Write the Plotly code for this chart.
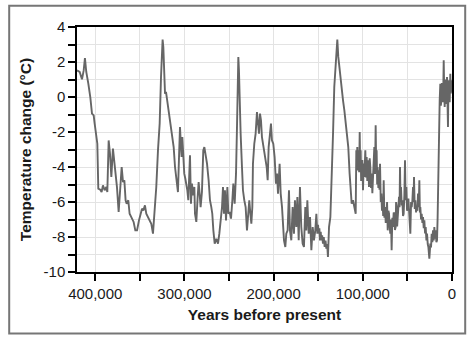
import plotly.graph_objects as go

# Years before present (thousands) and temperature change (°C)
# Segment A: 420 kyr -> 152 kyr
years_a = [420.5, 417.5, 414.9, 413.0, 411.6, 410.1, 407.8, 405.6, 403.7, 401.8,
           400.7, 398.8, 397.7, 396.6, 394.4, 392.9, 391.4, 389.5, 387.6, 386.5,
           385.0, 383.5, 382.0, 380.2, 378.3, 376.8, 375.7, 373.8, 371.9, 370.4,
           368.9, 367.4, 366.0, 364.8, 363.0, 361.5, 359.6, 358.5, 357.0, 355.1,
           353.2, 351.0, 349.5, 347.6, 346.1, 344.3, 342.8, 340.9, 339.0, 337.2,
           335.3, 334.2, 331.6, 329.7, 327.8, 326.3, 325.2, 324.5, 323.7, 323.0,
           321.8, 320.7, 319.2, 317.4, 315.9, 313.6, 312.1, 310.6, 309.1, 307.3,
           306.1, 305.0, 303.9, 303.2, 302.4, 301.3, 300.2, 299.0, 297.9, 296.8,
           295.7, 294.9, 293.8, 292.7, 291.6, 290.4, 288.9, 288.2, 286.7, 285.2,
           284.1, 283.0, 281.9, 280.4, 278.9, 277.7, 276.2, 274.7, 272.9, 271.4,
           269.9, 268.8, 267.6, 266.1, 264.3, 262.4, 260.9, 259.4, 257.9, 256.8,
           255.7, 254.6, 253.4, 251.9, 250.8, 249.3, 247.8, 246.3, 245.2, 243.7,
           242.2, 241.1, 240.4, 239.6, 238.9, 238.1, 237.0, 235.5, 234.4, 232.9,
           231.4, 229.9, 228.8, 227.3, 226.1, 225.0, 223.9, 223.2, 221.7, 220.2,
           218.7, 217.6, 216.4, 215.3, 214.2, 213.1, 211.9, 210.8, 209.3, 207.8,
           206.7, 205.6, 204.1, 203.0, 201.9, 200.4, 198.9, 197.4, 196.2, 195.1,
           193.3, 192.1, 190.6, 189.5, 188.4, 186.9, 185.8, 184.3, 182.8, 181.7,
           180.2, 178.7, 177.2, 176.1, 174.6, 173.4, 171.9, 170.5, 169.0, 167.5,
           166.0, 164.5, 163.4, 162.2, 160.7, 159.2, 157.7, 156.2, 154.8, 153.3,
           152.1]
temps_a = [1.52, 1.43, 1.01, 1.52, 2.23, 1.43, 0.76, 0.0, -0.95, -1.05,
           -1.52, -2.10, -2.67, -5.24, -5.30, -5.43, -5.05, -5.33, -5.14, -5.43,
           -2.48, -3.24, -4.57, -2.95, -3.81, -4.76, -5.14, -6.57, -5.14, -4.0,
           -4.86, -4.76, -5.90, -6.10, -5.90, -6.67, -6.86, -6.95, -7.14, -7.62,
           -7.62, -7.05, -6.67, -6.38, -6.48, -6.19, -6.67, -6.86, -7.05, -7.24,
           -7.81, -7.05, -5.14, -3.05, -1.52, 1.14, 2.86, 3.28, 2.86, 1.71,
           0.19, 0.29, -0.29, -1.05, -1.33, -2.29, -2.86, -4.0, -4.76, -5.43,
           -3.43, -1.71, -2.86, -3.43, -2.29, -3.62, -4.38, -4.67, -4.95, -5.33,
           -5.90, -4.95, -3.33, -6.10, -4.95, -5.62, -5.14, -6.67, -7.14, -5.71,
           -4.86, -5.52, -6.29, -5.43, -3.05, -2.86, -3.24, -3.81, -4.76, -5.90,
           -6.29, -6.67, -7.62, -8.38, -8.10, -8.38, -7.81, -7.05, -6.29, -5.14,
           -6.67, -5.33, -7.05, -5.14, -6.67, -6.57, -6.95, -5.90, -4.95, -6.10,
           -4.38, -1.71, 0.19, 2.29, 1.52, -0.57, -2.10, -4.0, -5.33, -5.90,
           -6.29, -7.62, -6.86, -5.90, -6.67, -7.24, -6.29, -3.81, -2.67, -2.10,
           -0.86, -1.33, -2.10, -0.95, -1.33, -2.29, -2.67, -2.86, -3.43, -4.0,
           -4.76, -2.86, -2.10, -1.52, -2.48, -2.67, -3.43, -4.95, -4.38, -5.52,
           -3.81, -5.52, -6.29, -7.43, -8.19, -8.57, -7.81, -7.62, -5.33, -7.62,
           -8.19, -6.29, -7.81, -5.90, -7.43, -5.71, -8.19, -5.14, -7.43, -8.38,
           -8.57, -6.29, -7.62, -5.90, -7.81, -6.86, -8.76, -7.43, -8.19, -7.62,
           -6.67]

# Segment B: 151 kyr -> 108 kyr
years_b = [151.0, 150.2, 149.5, 148.7, 148.0, 147.2, 146.5, 145.6, 144.7, 143.8,
           142.8, 141.8, 140.9, 140.0, 139.1, 137.9, 136.4, 134.9, 133.4, 132.0,
           130.5, 129.3, 128.6, 127.5, 126.3, 125.2, 123.7, 122.2, 120.7, 119.2,
           117.7, 116.3, 114.8, 113.6, 112.5, 111.0, 109.5, 108.0]
temps_b = [-7.81, -7.3, -7.81, -7.5, -8.19, -7.7, -8.19, -7.9, -8.38, -8.0,
           -8.57, -8.2, -8.67, -8.4, -9.14, -7.43, -6.86, -4.76, -2.10, 0.57,
           2.10, 2.48, 3.28, 2.29, 1.71, 0.95, 0.38, -0.19, -0.76, -1.52,
           -2.10, -2.86, -4.38, -5.52, -6.10, -5.90, -6.29, -6.67]

# Segment C: 107 kyr -> 17 kyr
years_c = [107.3, 106.8, 106.2, 105.5, 104.7, 104.1, 103.5, 103.0, 102.4, 101.9,
           101.3, 100.5, 99.8, 99.0, 98.3, 97.7, 97.2, 96.4, 95.7, 95.0,
           94.2, 93.6, 93.1, 92.3, 91.6, 90.8, 90.1, 89.3, 88.6, 87.8,
           87.1, 86.3, 85.6, 85.0, 84.5, 83.9, 83.4, 82.6, 81.9, 81.3,
           80.7, 79.9, 79.2, 78.5, 77.8, 77.2, 76.6, 75.8, 75.1, 74.3,
           73.6, 72.8, 72.1, 71.3, 70.6, 69.9, 69.2, 68.4, 67.7, 66.9,
           66.2, 65.4, 64.7, 64.0, 63.2, 62.7, 62.1, 61.5, 60.9, 60.2,
           59.4, 58.8, 58.3, 57.7, 57.2, 56.4, 55.7, 54.9, 54.2, 53.4,
           52.7, 52.0, 51.2, 50.4, 49.7, 48.9, 48.2, 47.4, 46.7, 45.9,
           45.2, 44.4, 43.7, 43.1, 42.6, 41.8, 41.1, 40.3, 39.6, 38.8,
           38.1, 37.3, 36.6, 36.0, 35.5, 34.7, 34.0, 33.2, 32.5, 31.7,
           31.0, 30.2, 29.5, 28.7, 28.0, 27.2, 26.5, 25.4, 24.3, 23.5,
           22.8, 22.0, 21.3, 20.5, 19.8, 19.0, 18.3, 17.5, 16.8]
temps_c = [-3.05, -4.0, -2.86, -4.2, -3.05, -4.3, -2.0, -3.9, -3.05, -4.8,
           -4.38, -3.6, -5.33, -3.8, -4.57, -3.6, -3.05, -4.6, -3.43, -4.8,
           -3.62, -4.2, -5.14, -3.5, -4.0, -5.2, -4.38, -5.5, -4.76, -4.2,
           -2.86, -4.4, -1.62, -3.9, -3.05, -5.0, -4.0, -5.2, -4.19, -5.3,
           -3.81, -6.0, -5.52, -6.5, -5.90, -6.8, -4.76, -6.9, -6.29, -7.2,
           -6.86, -6.0, -7.62, -6.5, -6.67, -7.4, -7.81, -7.0, -8.76, -6.9,
           -7.43, -6.6, -6.67, -7.6, -7.43, -6.0, -6.29, -7.4, -7.05, -6.3,
           -5.71, -6.3, -4.0, -6.0, -5.14, -6.2, -5.90, -6.8, -6.67, -5.6,
           -3.62, -5.9, -5.14, -6.5, -6.29, -5.8, -6.67, -7.0, -7.81, -6.0,
           -6.29, -5.9, -5.14, -6.0, -4.57, -6.4, -5.90, -6.6, -6.29, -6.5,
           -5.52, -6.3, -4.76, -6.6, -6.29, -7.0, -6.67, -7.2, -6.86, -7.5,
           -7.05, -7.8, -7.43, -8.2, -7.81, -8.4, -8.57, -9.24, -8.38, -8.6,
           -7.81, -8.3, -7.62, -8.2, -7.43, -8.1, -7.62, -8.3, -8.19]

# Segment D: 16 kyr -> present
years_d = [16.1, 15.3, 14.6, 13.8, 13.1, 12.5, 12.0, 11.4, 10.8, 10.0,
           9.3, 8.7, 8.2, 7.6, 7.1, 6.3, 5.6, 5.0, 4.5, 4.0,
           3.4, 2.6, 1.9, 1.3, 0.7, 0.0]
temps_d = [-6.86, -4.0, -2.10, -0.19, 0.76, -0.5, -0.19, 0.8, 0.57, -0.3,
           2.10, 0.2, -0.57, 1.0, 0.57, -0.4, 1.14, 0.0, -1.71, 0.5,
           0.95, -0.3, 1.33, 0.2, 0.95, 0.3]

for ys, ts in [(years_a, temps_a), (years_b, temps_b), (years_c, temps_c), (years_d, temps_d)]:
    assert len(ys) == len(ts), (len(ys), len(ts))

x_tick_vals = [0, 50000, 100000, 150000, 200000, 250000, 300000, 350000, 400000]
x_tick_text = ["0", "", "100,000", "", "200,000", "", "300,000", "", "400,000"]
y_tick_vals = list(range(-10, 5))
y_tick_text = [str(v) if v % 2 == 0 else "" for v in y_tick_vals]

years = [y * 1000 for y in years_a + years_b + years_c + years_d]
temps = temps_a + temps_b + temps_c + temps_d

FONT = "Liberation Sans, Arial, sans-serif"

fig = go.Figure()
fig.add_trace(go.Scatter(
    x=years, y=temps, mode="lines",
    line=dict(color="#666666", width=1.9),
    hoverinfo="skip", showlegend=False,
))

W, H = 474, 346
L, R, T, B = 77, 22, 27, 74
pw, ph = W - L - R, H - T - B

def px_x(p):
    return (p - L) / pw

def px_y(p):
    return (H - B - p) / ph

fig.update_layout(
    width=W, height=H,
    margin=dict(l=L, r=R, t=T, b=B),
    paper_bgcolor="white", plot_bgcolor="white",
    font=dict(family=FONT, color="#1a1a1a", size=15),
    xaxis=dict(
        range=[420500, 0],
        tickvals=x_tick_vals, ticktext=x_tick_text,
        ticks="outside", ticklen=7, tickwidth=1.5, tickcolor="black",
        showgrid=True, gridcolor="#e3e3e3", gridwidth=1,
        showline=True, linecolor="black", linewidth=1.5, mirror=True,
        zeroline=False,
        tickfont=dict(size=15),
        title=dict(text="<b>Years before present</b>", font=dict(size=15.5), standoff=8),
    ),
    yaxis=dict(
        range=[-10, 4],
        tickvals=y_tick_vals, ticktext=y_tick_text,
        ticks="outside", ticklen=7, tickwidth=1.5, tickcolor="black",
        showgrid=True, gridcolor="#e3e3e3", gridwidth=1,
        showline=True, linecolor="black", linewidth=1.5, mirror=True,
        zeroline=False,
        tickfont=dict(size=15),
        title=dict(text="<b>Temperature change (°C)</b>", font=dict(size=15.5), standoff=8),
    ),
    shapes=[dict(
        type="rect", xref="paper", yref="paper",
        x0=px_x(9.2), x1=px_x(465.2), y0=px_y(333.5), y1=px_y(5.8),
        line=dict(color="#767676", width=2), fillcolor="rgba(0,0,0,0)",
        layer="below",
    )],
)

fig.write_html("out.html")
